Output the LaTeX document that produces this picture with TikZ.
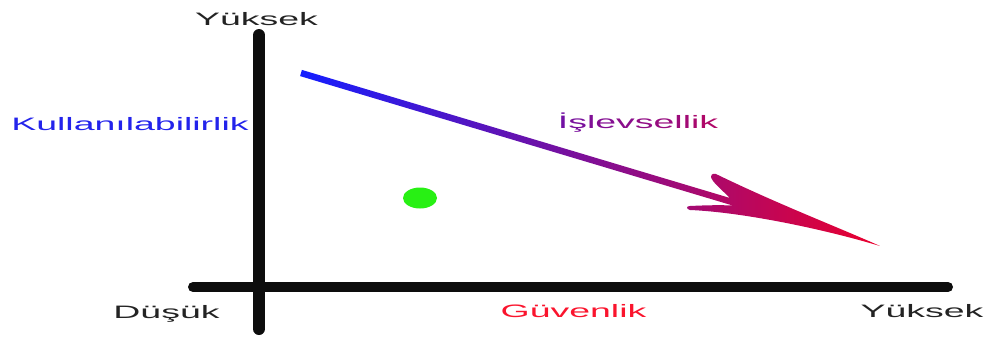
\documentclass[tikz,border=0pt]{standalone}
\usepackage{fontspec}
\usepackage{graphicx}
\usetikzlibrary{shapes.geometric}
\setmainfont{Liberation Sans}
\definecolor{arrblue}{RGB}{20,30,255}
\definecolor{arrred}{RGB}{235,0,45}
\definecolor{axisgray}{RGB}{35,35,35}
\definecolor{useblue}{RGB}{35,35,235}
\definecolor{secred}{RGB}{250,20,45}
\definecolor{dotgreen}{RGB}{40,240,20}
\newcommand{\wide}[1]{\scalebox{2.08}[1]{#1}}
\tikzset{
  axisline/.style={line width=12pt, line cap=round, color=black!95},
  lbl/.style={anchor=base, inner sep=0pt, font=\fontsize{18}{20}\selectfont},
}
\begin{document}
\begin{tikzpicture}[x=1pt,y=-1pt]
\useasboundingbox (0,0) rectangle (987,341);
% axes
\coordinate (vtop) at (259,35);
\coordinate (vbot) at (259,329);
\coordinate (hleft) at (193,287);
\coordinate (hright) at (948,287);
\draw[axisline] (vtop) -- (vbot);
\draw[axisline, line width=10pt] (hleft) -- (hright);
% labels
\node[lbl, text=axisgray] (ytop) at (256.5,25) {\wide{Yüksek}};
\node[lbl, text=useblue] (usab) at (130,130) {\wide{Kullanılabilirlik}};
\node[lbl, text=axisgray] (low) at (166.5,318) {\wide{Düşük}};
\node[lbl, text=secred] (sec) at (573.5,317) {\wide{Güvenlik}};
\node[lbl, text=axisgray] (yright) at (922,317) {\wide{Yüksek}};
\node[lbl] (func) at (638,128) {\wide{\textcolor{arrred!44!arrblue}{İ}\textcolor{arrred!47!arrblue}{ş}\textcolor{arrred!50!arrblue}{l}\textcolor{arrred!52!arrblue}{e}\textcolor{arrred!55!arrblue}{v}\textcolor{arrred!58!arrblue}{s}\textcolor{arrred!61!arrblue}{e}\textcolor{arrred!63!arrblue}{l}\textcolor{arrred!66!arrblue}{l}\textcolor{arrred!69!arrblue}{i}\textcolor{arrred!72!arrblue}{k}}};
% green dot
\node[ellipse, fill=dotgreen, minimum width=34pt, minimum height=21pt, inner sep=0pt] (dot) at (420,198) {};
% gradient arrow
\shade[left color=arrblue, right color=arrred]
  (301.9,69.9) -- (730,198)
  .. controls (722,190) and (712,182) .. (711,177)
  .. controls (711,173) and (715,173) .. (718,175)
  .. controls (780,205) and (840,228) .. (880,246)
  .. controls (820,228) and (740,212) .. (690,210)
  .. controls (686,209) and (686,206) .. (690,206)
  .. controls (710,205) and (725,205) .. (733,205.6)
  -- (300.1,76.1) -- cycle;
\end{tikzpicture}
\end{document}
